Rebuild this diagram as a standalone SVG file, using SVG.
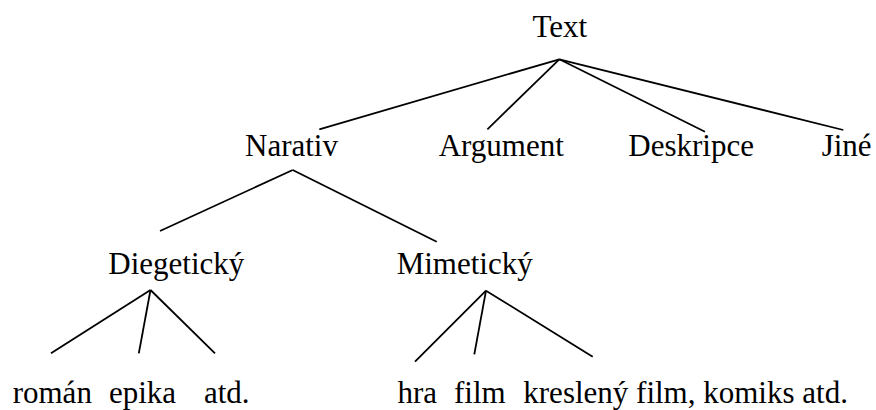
<svg xmlns="http://www.w3.org/2000/svg" width="876" height="410" viewBox="0 0 876 410">
  <style>
    text { font-family: 'Liberation Serif', 'Times New Roman', 'DejaVu Serif', serif; font-size: 31px; fill: #000; }
    .c { text-anchor: middle; }
    .edge { stroke: #000; stroke-width: 1.8; fill: none; stroke-linecap: butt; }
  </style>
  <rect width="876" height="410" fill="#fff"/>
  <g id="connectors">
    <line class="edge" x1="559.3" y1="59.3" x2="319.3" y2="129.3"/>
    <line class="edge" x1="559.3" y1="59.3" x2="487.4" y2="129.4"/>
    <line class="edge" x1="559.3" y1="59.3" x2="705" y2="131.7"/>
    <line class="edge" x1="559.3" y1="59.3" x2="843.3" y2="130"/>
    <line class="edge" x1="292.7" y1="170" x2="160" y2="231"/>
    <line class="edge" x1="292.7" y1="170" x2="436.7" y2="241.7"/>
    <line class="edge" x1="150.5" y1="290" x2="51" y2="353.3"/>
    <line class="edge" x1="150.5" y1="290" x2="138.8" y2="353.3"/>
    <line class="edge" x1="150.5" y1="290" x2="215" y2="353.3"/>
    <line class="edge" x1="486" y1="290.7" x2="415" y2="361.7"/>
    <line class="edge" x1="486" y1="290.7" x2="474.3" y2="354.3"/>
    <line class="edge" x1="486" y1="290.7" x2="592.7" y2="356.7"/>
  </g>
  <g font-family="Liberation Serif, Times New Roman, serif" font-size="31">
    <g id="text-root"><text class="c" x="559.8" y="36.7">Text</text></g>
    <g id="narativ"><text x="245" y="155.7">Narativ</text></g>
    <g id="argument"><text x="438.7" y="155.7">Argument</text></g>
    <g id="deskripce"><text x="628.3" y="155.5">Deskripce</text></g>
    <g id="jine"><text x="821.7" y="155.5">Jiné</text></g>
    <g id="diegeticky"><text x="108.3" y="273.5">Diegetický</text></g>
    <g id="mimeticky"><text x="396.7" y="274">Mimetický</text></g>
    <g id="roman"><text x="12.7" y="402.5">román</text></g>
    <g id="epika"><text x="109" y="402.5">epika</text></g>
    <g id="atd1"><text x="204" y="402.5">atd.</text></g>
    <g id="hra"><text x="397.5" y="402.5">hra</text></g>
    <g id="film"><text x="454" y="402.5">film</text></g>
    <g id="kresleny"><text x="523.3" y="402.5">kreslený film, komiks atd.</text></g>
  </g>
</svg>
